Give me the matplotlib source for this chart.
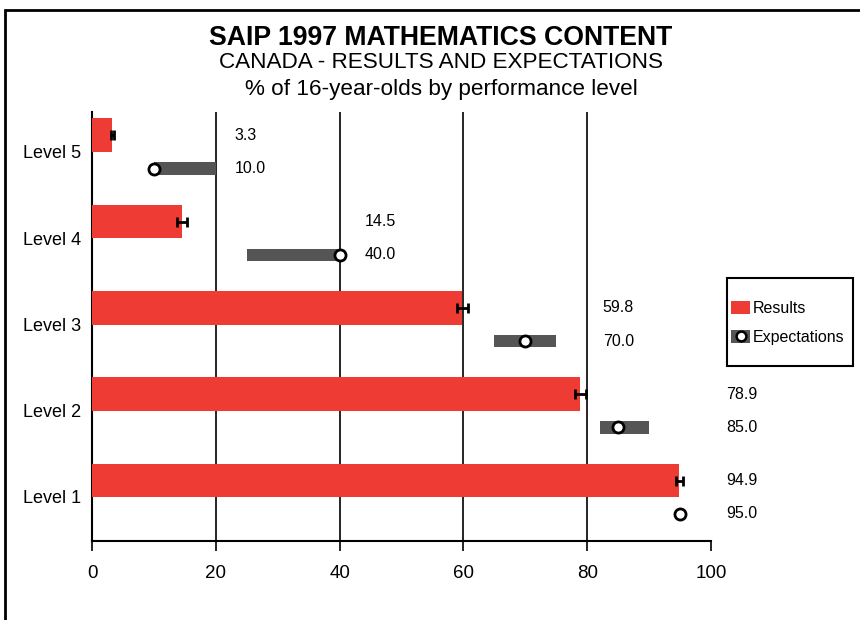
import matplotlib
matplotlib.use("Agg")
import matplotlib.pyplot as plt
from matplotlib.patches import Patch, Rectangle
from matplotlib.lines import Line2D
from matplotlib.legend_handler import HandlerTuple

plt.rcParams['font.family'] = ['Liberation Sans', 'DejaVu Sans']

levels = ["Level 1", "Level 2", "Level 3", "Level 4", "Level 5"]
results = [94.9, 78.9, 59.8, 14.5, 3.3]
result_err = [0.6, 0.9, 0.9, 0.8, 0.3]
expect_low = [95.0, 82.0, 65.0, 25.0, 10.0]
expect_high = [95.0, 90.0, 75.0, 40.0, 20.0]
expectations = [95.0, 85.0, 70.0, 40.0, 10.0]
label_x = [102.5, 102.5, 82.5, 44.0, 23.0]
xticks = [0, 20, 40, 60, 80, 100]

red = "#EE3B33"
gray = "#555555"

fig = plt.figure(figsize=(8.6, 6.2), dpi=100)
ax = fig.add_axes([92/860, 1-541/620, (711-92)/860, (541-112)/620])

pos = list(range(1, len(levels)+1))
r_off, e_off = 0.19, -0.195
r_h, e_h = 0.39, 0.14

ry = [p + r_off for p in pos]
ey = [p + e_off for p in pos]

ax.barh(ry, results, height=r_h, color=red, zorder=3)
ax.errorbar(results, ry, xerr=result_err, fmt='none', ecolor='black',
            elinewidth=2, capsize=3.5, capthick=2, zorder=4)
ax.barh(ey, [h - l for l, h in zip(expect_low, expect_high)], left=expect_low,
        height=e_h, color=gray, zorder=3)
ax.plot(expectations, ey, 'o', markerfacecolor='white', markeredgecolor='black',
        markeredgewidth=2, markersize=8, zorder=5)

for i in range(len(levels)):
    ax.text(label_x[i], ry[i], f"{results[i]:.1f}", va='center', ha='left', fontsize=11.5, zorder=6)
    ax.text(label_x[i], ey[i], f"{expectations[i]:.1f}", va='center', ha='left', fontsize=11.5, zorder=6)

ax.set_xlim(0, 100)
ax.set_ylim(0.49, 5.46)
ax.set_xticks(xticks)
ax.set_xticklabels([str(t) for t in xticks], fontsize=13.5)
ax.set_yticks(pos)
ax.set_yticklabels(levels, fontsize=13)
ax.tick_params(axis='y', length=0, pad=8)
ax.tick_params(axis='x', direction='out', length=7, width=1.2, pad=10)
for x in xticks[1:-1]:
    ax.axvline(x, color='black', linewidth=1.2, zorder=1)
for s in ['top', 'right']:
    ax.spines[s].set_visible(False)
ax.spines['left'].set_linewidth(1.5)
ax.spines['bottom'].set_linewidth(1.5)

fig.text(441/860, 1-38/620, "SAIP 1997 MATHEMATICS CONTENT", ha='center', va='center',
         fontsize=19.2, fontweight='bold')
fig.text(441/860, 1-63/620, "CANADA - RESULTS AND EXPECTATIONS", ha='center', va='center', fontsize=16.2)
fig.text(441/860, 1-90/620, "% of 16-year-olds by performance level", ha='center', va='center', fontsize=16.2)

h_res = Patch(facecolor=red, edgecolor='none')
h_exp = (Patch(facecolor=gray, edgecolor='none'),
         Line2D([], [], marker='o', linestyle='none', markerfacecolor='white',
                markeredgecolor='black', markeredgewidth=1.8, markersize=7))
leg = fig.legend([h_res, h_exp], ["Results", "Expectations"],
                 handler_map={tuple: HandlerTuple(ndivide=1, pad=0)},
                 loc='center left', bbox_to_anchor=(731/860, 1-323/620),
                 fontsize=11.5, frameon=False, handlelength=1.2,
                 handleheight=0.85, handletextpad=0.15, borderpad=0, labelspacing=0.85,
                 borderaxespad=0)

fig.patches.append(Rectangle((727/860, 1-366/620), 126/860, 88/620, transform=fig.transFigure,
                             fill=False, edgecolor='black', linewidth=1.5))
fig.patches.append(Rectangle((5/860, -0.1), 1.2, 1 - 10/620 + 0.1, transform=fig.transFigure,
                             fill=False, edgecolor='black', linewidth=2))

fig.savefig("out.png", dpi=100)
